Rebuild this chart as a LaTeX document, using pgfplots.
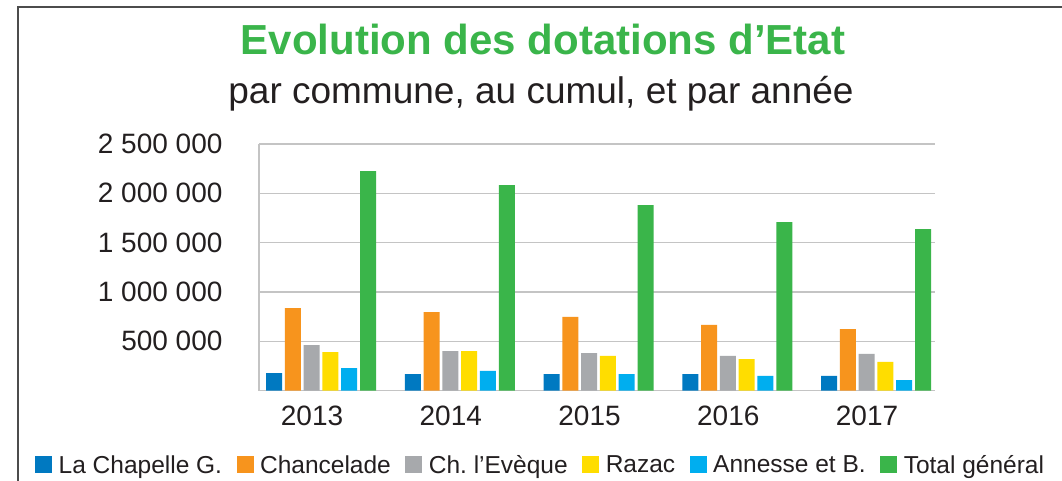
\documentclass[border=0pt]{standalone}
\usepackage{fontspec}
\setmainfont{Liberation Sans}
\usepackage{pgfplots}
\pgfplotsset{compat=1.18}
\definecolor{cBlue}{HTML}{0079C1}
\definecolor{cOrange}{HTML}{F7941D}
\definecolor{cGray}{HTML}{A7A9AC}
\definecolor{cYellow}{HTML}{FFDD00}
\definecolor{cCyan}{HTML}{00AEEF}
\definecolor{cGreen}{HTML}{3AB54A}
\definecolor{cGrid}{HTML}{C4C4C4}
\definecolor{cText}{HTML}{231F20}
\frenchspacing
\begin{document}
\begin{tikzpicture}
\useasboundingbox (0,0) rectangle (1062bp,481bp);
\fill[white] (0,0) rectangle (1062bp,481bp);
\draw[black!70, line width=1.6bp] (18bp,0) -- (18bp,474bp) -- (1062bp,474bp);
\node[anchor=base, text=cGreen, font=\fontsize{42bp}{48bp}\selectfont\bfseries] at (543bp,426bp) {Evolution des dotations d’Etat};
\node[anchor=base, text=cText, font=\fontsize{37bp}{42bp}\selectfont] at (541bp,377bp) {par commune, au cumul, et par année};
\begin{axis}[
  at={(259bp,90.3bp)}, anchor=south west,
  scale only axis, width=676bp, height=246.7bp,
  ybar=2.8bp, bar width=16bp,
  xmin=-0.447, xmax=4.425, ymin=0, ymax=2500000,
  axis x line*=bottom, axis y line*=left,
  axis line style={cGrid, line width=1.5bp, -},
  major tick length=0pt,
  xtick={0,1,2,3,4}, xticklabels={2013,2014,2015,2016,2017},
  ytick={500000,1000000,1500000,2000000,2500000},
  yticklabels={{500 000},{1 000 000},{1 500 000},{2 000 000},{2 500 000}},
  ymajorgrids, major grid style={cGrid, line width=1.5bp},
  ticklabel style={text=cText, font=\fontsize{28bp}{32bp}\selectfont},
  xticklabel style={xshift=-9bp, yshift=-12bp},
  yticklabel style={xshift=-33bp},
  scaled y ticks=false,
  legend columns=6,
  legend image code/.code={\fill[#1] (0bp,-8.5bp) rectangle (17bp,8.5bp);},
  legend style={draw=none, fill=none, inner sep=0pt,
    at={(-0.3314,-0.301)}, anchor=west,
    font=\fontsize{24.5bp}{28bp}\selectfont, text=cText,
    nodes={inner sep=2.5bp},
    /tikz/every odd column/.append style={column sep=4bp},
    /tikz/every even column/.append style={column sep=12bp}},
  legend cell align=left,
]
\addplot[fill=cBlue, draw=none] coordinates {(0,179000) (1,169000) (2,169000) (3,169000) (4,149000)};
\addplot[fill=cOrange, draw=none] coordinates {(0,838000) (1,797000) (2,747000) (3,666000) (4,625000)};
\addplot[fill=cGray, draw=none] coordinates {(0,463000) (1,402000) (2,382000) (3,352000) (4,372000)};
\addplot[fill=cYellow, draw=none] coordinates {(0,392000) (1,402000) (2,352000) (3,321000) (4,291000)};
\addplot[fill=cCyan, draw=none] coordinates {(0,230000) (1,200000) (2,169000) (3,149000) (4,108000)};
\addplot[fill=cGreen, draw=none] coordinates {(0,2226000) (1,2084000) (2,1881000) (3,1709000) (4,1638000)};
\legend{La Chapelle G.,Chancelade,Ch. l’Evèque,Razac,Annesse et B.,Total général}
\end{axis}
\end{tikzpicture}
\end{document}
